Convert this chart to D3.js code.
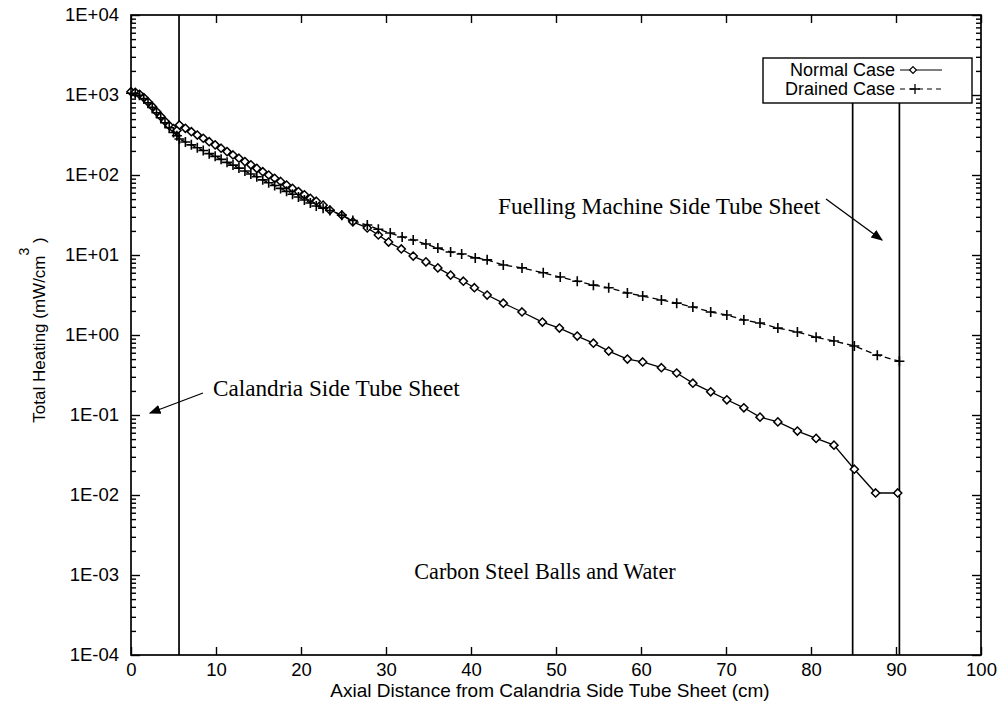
<!DOCTYPE html>
<html>
<head>
<meta charset="utf-8">
<script src="https://cdn.jsdelivr.net/npm/d3@7"></script>
<style>
  body { margin: 0; background: #fff; }
  svg { display: block; }
</style>
</head>
<body>
<svg id="chart" width="999" height="709"></svg>
<script>
// ---------- data ----------
const xTickValues = [0, 10, 20, 30, 40, 50, 60, 70, 80, 90, 100];
const yTickValues = [1e-4, 1e-3, 1e-2, 1e-1, 1e0, 1e1, 1e2, 1e3, 1e4];
const yTickLabels = ["1E-04", "1E-03", "1E-02", "1E-01", "1E+00", "1E+01", "1E+02", "1E+03", "1E+04"];

const normalX = [0, 0.5, 1.0, 1.5, 2.0, 2.5, 3.0, 3.5, 4.0, 4.5, 5.0, 5.4,
  5.7, 6.4, 7.1, 7.8, 8.5, 9.2, 9.9, 10.6, 11.3, 12.0, 12.7, 13.4, 14.1, 14.8, 15.5,
  16.2, 16.9, 17.6, 18.3, 19.0, 19.7, 20.4, 21.1, 21.8,
  22.6, 23.4, 24.8, 26.1, 27.8, 29.1, 30.3, 31.8, 33.2, 34.7, 36.1, 37.6, 39.1, 40.4,
  41.9, 43.8, 46.0, 48.4, 50.4, 52.5, 54.4, 56.2, 58.4, 60.2, 62.4, 64.2, 66.1, 68.2,
  70.1, 72.1, 74.0, 76.1, 78.4, 80.6, 82.7, 85.1, 87.6, 90.2];
const normalY = [1100, 1080, 1020, 930, 820, 720, 620, 540, 470, 415, 380, 360,
  422, 383, 348, 316, 288, 261, 238, 216, 196, 178, 162, 147, 134, 121, 110,
  100, 91, 83, 75, 68, 62, 56.5, 51, 47,
  42, 36.5, 31.6, 26, 21.8, 17.8, 14.5, 11.9, 9.7, 8.2, 6.9, 5.6, 4.7, 3.9,
  3.16, 2.5, 1.94, 1.45, 1.22, 0.97, 0.79, 0.63, 0.5, 0.46, 0.39, 0.335, 0.25, 0.195,
  0.155, 0.123, 0.094, 0.082, 0.063, 0.051, 0.042, 0.021, 0.0106, 0.0106];

const drainedX = [0, 0.5, 1.0, 1.5, 2.0, 2.5, 3.0, 3.5, 4.0, 4.5, 5.0, 5.4,
  5.7, 6.4, 7.1, 7.8, 8.5, 9.2, 9.9, 10.6, 11.3, 12.0, 12.7, 13.4, 14.1, 14.8, 15.5,
  16.2, 16.9, 17.6, 18.3, 19.0, 19.7, 20.4, 21.1, 21.8,
  22.6, 23.4, 24.8, 26.1, 27.8, 29.1, 30.5, 31.9, 33.2, 34.7, 36.1, 37.6, 38.9, 40.5,
  41.9, 43.8, 46.0, 48.5, 50.5, 52.5, 54.4, 56.2, 58.4, 60.2, 62.4, 64.2, 66.1, 68.2,
  70.1, 72.1, 74.0, 76.1, 78.4, 80.6, 82.7, 85.1, 87.8, 90.4];
const drainedY = [1050, 1040, 990, 900, 800, 700, 600, 520, 450, 390, 340, 310,
  282, 259, 238, 219, 202, 185, 171, 157, 144, 133, 122, 112, 103, 95, 87,
  80, 74, 68, 62.5, 57.5, 53, 48.6, 44.7, 41,
  38.5, 36, 31.5, 27, 23.7, 21, 18.8, 16.8, 15.4, 13.7, 12.2, 10.9, 10.3, 9.2,
  8.7, 7.5, 6.9, 6.0, 5.3, 4.7, 4.2, 3.9, 3.35, 3.07, 2.74, 2.5, 2.24, 1.94,
  1.78, 1.54, 1.41, 1.22, 1.09, 0.94, 0.84, 0.73, 0.56, 0.47];

const seriesNames = ["Normal Case", "Drained Case"];
const tubeSheetLines = [5.65, 84.9, 90.4];

// ---------- layout ----------
const svg = d3.select("#chart");
const mLeft = 131, mRight = 981, mTop = 15, mBottom = 655;
const x = d3.scaleLinear().domain([0, 100]).range([mLeft, mRight]);
const y = d3.scaleLog().domain([1e-4, 1e4]).range([mBottom, mTop]);

const sans = "'Liberation Sans', Arial, Helvetica, sans-serif";
const serif = "'Liberation Serif', 'Times New Roman', serif";

const minorVals = [];
for (let e = -4; e < 4; e++) for (let m = 2; m <= 9; m++) minorVals.push(m * Math.pow(10, e));

function styleAxis(g) {
  g.selectAll("path.domain").remove();
  g.selectAll("line").attr("stroke", "#000").attr("stroke-width", 1.4);
  g.selectAll("text").attr("font-family", sans).attr("font-size", 18.5).attr("fill", "#000");
}

svg.append("g").attr("transform", `translate(${mLeft},0)`)
  .call(d3.axisLeft(y).tickValues(yTickValues).tickSize(-9).tickPadding(12)
    .tickFormat((d, i) => yTickLabels[i]))
  .call(styleAxis);
svg.append("g").attr("transform", `translate(${mLeft},0)`)
  .call(d3.axisLeft(y).tickValues(minorVals).tickSize(-5).tickFormat(""))
  .call(styleAxis);
svg.append("g").attr("transform", `translate(${mRight},0)`)
  .call(d3.axisRight(y).tickValues(yTickValues).tickSize(-9).tickFormat(""))
  .call(styleAxis);
svg.append("g").attr("transform", `translate(${mRight},0)`)
  .call(d3.axisRight(y).tickValues(minorVals).tickSize(-5).tickFormat(""))
  .call(styleAxis);
svg.append("g").attr("transform", `translate(0,${mBottom})`)
  .call(d3.axisBottom(x).tickValues(xTickValues).tickSize(-8).tickPadding(8).tickFormat(d3.format("d")))
  .call(styleAxis);
svg.append("g").attr("transform", `translate(0,${mTop})`)
  .call(d3.axisTop(x).tickValues(xTickValues).tickSize(-8).tickFormat(""))
  .call(styleAxis);

svg.append("rect").attr("x", mLeft).attr("y", mTop).attr("width", mRight - mLeft).attr("height", mBottom - mTop)
  .attr("fill", "none").attr("stroke", "#000").attr("stroke-width", 1.7);

svg.append("text").attr("x", 550).attr("y", 697).attr("text-anchor", "middle")
  .attr("font-family", sans).attr("font-size", 19).text("Axial Distance from Calandria Side Tube Sheet (cm)");
const yl = svg.append("text").attr("transform", "translate(45,330) rotate(-90)").attr("text-anchor", "middle")
  .attr("font-family", sans).attr("font-size", 17);
yl.append("tspan").text("Total Heating (mW/cm");
yl.append("tspan").attr("dy", -16).attr("font-size", 14).text("3");
yl.append("tspan").attr("dy", 16).text(" )");

const legX = 763, legY = 58, legW = 209, legH = 45;
tubeSheetLines.forEach((v, i) => {
  svg.append("line").attr("x1", x(v)).attr("x2", x(v))
    .attr("y1", i === 0 ? mTop : legY + legH).attr("y2", mBottom)
    .attr("stroke", "#000").attr("stroke-width", 1.7);
});

const lineGen = d3.line().x(d => x(d[0])).y(d => y(d[1]));
const normalData = normalX.map((v, i) => [v, normalY[i]]);
const drainedData = drainedX.map((v, i) => [v, drainedY[i]]);

svg.append("path").datum(normalData).attr("d", lineGen)
  .attr("fill", "none").attr("stroke", "#000").attr("stroke-width", 1.3);
svg.append("path").datum(drainedData).attr("d", lineGen)
  .attr("fill", "none").attr("stroke", "#000").attr("stroke-width", 1.3).attr("stroke-dasharray", "6,4");

const diamond = d3.symbol().type(d3.symbolDiamond2).size(42);
svg.append("g").selectAll("path").data(normalData).join("path")
  .attr("transform", d => `translate(${x(d[0])},${y(d[1])})`)
  .attr("d", diamond).attr("fill", "#fff").attr("stroke", "#000").attr("stroke-width", 1.5);

function plusPath(s) { return `M${-s},0H${s}M0,${-s}V${s}`; }
svg.append("g").selectAll("path").data(drainedData).join("path")
  .attr("transform", d => `translate(${x(d[0])},${y(d[1])})`)
  .attr("d", plusPath(5)).attr("fill", "none").attr("stroke", "#000").attr("stroke-width", 1.6);

svg.append("rect").attr("x", legX).attr("y", legY).attr("width", legW).attr("height", legH)
  .attr("fill", "#fff").attr("stroke", "#000").attr("stroke-width", 1.4);
svg.append("text").attr("x", 895).attr("y", 76).attr("text-anchor", "end")
  .attr("font-family", sans).attr("font-size", 18).text(seriesNames[0]);
svg.append("text").attr("x", 895).attr("y", 95).attr("text-anchor", "end")
  .attr("font-family", sans).attr("font-size", 18).text(seriesNames[1]);
svg.append("line").attr("x1", 900).attr("x2", 942).attr("y1", 70).attr("y2", 70)
  .attr("stroke", "#000").attr("stroke-width", 1.1);
svg.append("path").attr("transform", "translate(913,70)").attr("d", d3.symbol().type(d3.symbolDiamond2).size(30))
  .attr("fill", "#fff").attr("stroke", "#000").attr("stroke-width", 1.2);
svg.append("line").attr("x1", 900).attr("x2", 942).attr("y1", 89).attr("y2", 89)
  .attr("stroke", "#000").attr("stroke-width", 1.1).attr("stroke-dasharray", "5,4");
svg.append("path").attr("transform", "translate(915,89)").attr("d", plusPath(5))
  .attr("stroke", "#000").attr("stroke-width", 1.3);

const defs = svg.append("defs");
defs.append("marker").attr("id", "arrow").attr("viewBox", "0 0 10 10").attr("refX", 9).attr("refY", 5)
  .attr("markerWidth", 9).attr("markerHeight", 9).attr("orient", "auto")
  .append("path").attr("d", "M0,1L10,5L0,9z").attr("fill", "#000");

svg.append("text").attr("x", 213).attr("y", 396).attr("font-family", serif).attr("font-size", 23.2)
  .text("Calandria Side Tube Sheet");
svg.append("line").attr("x1", 203).attr("y1", 393).attr("x2", 150).attr("y2", 413)
  .attr("stroke", "#000").attr("stroke-width", 1.3).attr("marker-end", "url(#arrow)");

svg.append("text").attr("x", 498).attr("y", 214).attr("font-family", serif).attr("font-size", 23.3)
  .text("Fuelling Machine Side Tube Sheet");
svg.append("line").attr("x1", 826).attr("y1", 199).attr("x2", 882).attr("y2", 240)
  .attr("stroke", "#000").attr("stroke-width", 1.3).attr("marker-end", "url(#arrow)");

svg.append("text").attr("x", 545).attr("y", 579).attr("text-anchor", "middle")
  .attr("font-family", serif).attr("font-size", 22.2).text("Carbon Steel Balls and Water");
</script>
</body>
</html>
